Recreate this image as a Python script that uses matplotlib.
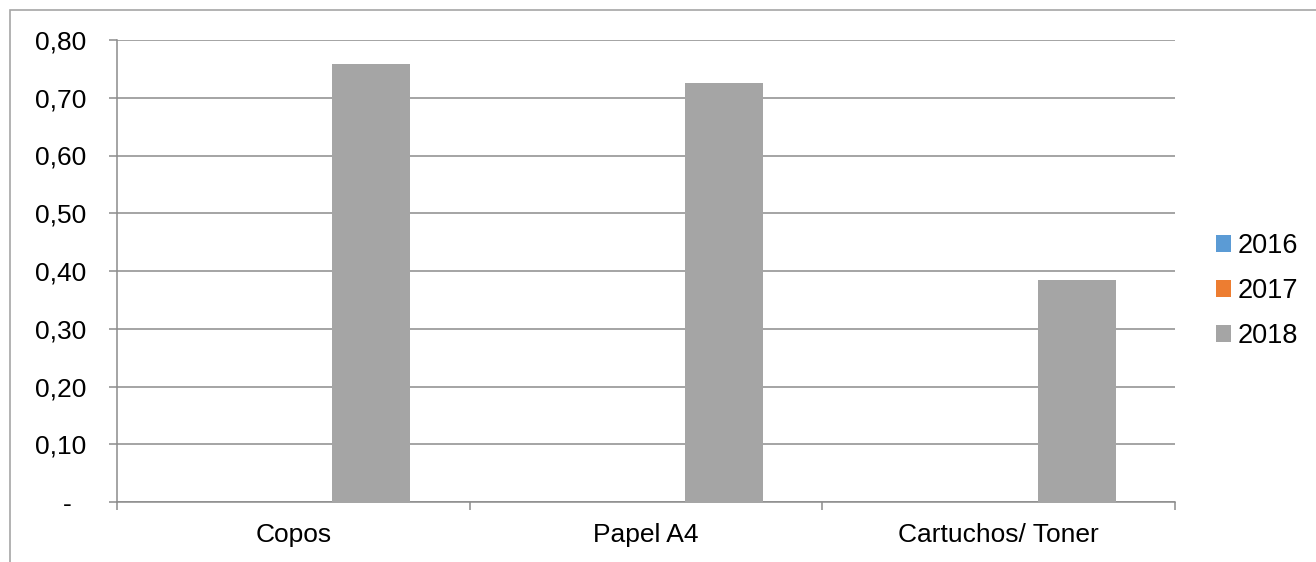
import numpy as np
import matplotlib.pyplot as plt
from matplotlib.patches import Rectangle

plt.rcParams['font.family'] = ['Liberation Sans', 'DejaVu Sans']

categories = ['Copos', 'Papel A4', 'Cartuchos/ Toner']
years = ['2016', '2017', '2018']
values_2016 = [0.0, 0.0, 0.0]
values_2017 = [0.0, 0.0, 0.0]
values_2018 = [0.758, 0.726, 0.384]
yticks = [0.0, 0.1, 0.2, 0.3, 0.4, 0.5, 0.6, 0.7, 0.8]

colors = ['#5B9BD5', '#ED7D31', '#A5A5A5']
grid_col = '#8C8C8C'

W, H = 1316, 562
fig = plt.figure(figsize=(W / 100, H / 100), dpi=100)
ax = fig.add_axes([117 / W, (H - 502) / H, (1175 - 117) / W, 462 / H])

# chart area border (only left and top edges visible in the crop)
fig.patches.append(Rectangle((10 / W, -0.1), 1.2, (H - 10) / H + 0.1,
                             transform=fig.transFigure, fill=False,
                             edgecolor='#A6A6A6', lw=1.2))

x = np.arange(len(categories))
w = 1 / (3 + 1.52)
handles = []
for i, (yr, vals) in enumerate(zip(years, [values_2016, values_2017, values_2018])):
    b = ax.bar(x + (i - 1) * w, vals, width=w, color=colors[i], lw=0,
               label=yr, zorder=3)
    handles.append(b)

ax.set_xlim(-0.5, len(categories) - 0.5)
ax.set_ylim(0, 0.8)
ax.set_yticks(yticks)
ax.set_yticklabels(['-  ' if v == 0 else ('%.2f' % v).replace('.', ',') for v in yticks])
ax.yaxis.grid(True, color=grid_col, lw=1.1, zorder=0)

ax.set_xticks(x)
ax.set_xticklabels(categories)
ax.set_xticks(np.arange(len(categories) + 1) - 0.5, minor=True)
ax.tick_params(axis='x', which='major', length=0, pad=15, labelsize=19)
ax.tick_params(axis='x', which='minor', length=6, color=grid_col, width=1.1)
ax.tick_params(axis='y', length=6, color=grid_col, width=1.1, pad=16, labelsize=19)

for s in ['top', 'right']:
    ax.spines[s].set_visible(False)
for s in ['left', 'bottom']:
    ax.spines[s].set_color(grid_col)
    ax.spines[s].set_linewidth(1.1)

fig.legend(handles=handles, labels=years, loc='center left',
           bbox_to_anchor=(1192 / W, 1 - 291 / H), frameon=False,
           fontsize=19.5, handlelength=0.55, handleheight=0.55,
           handletextpad=0.25, labelspacing=0.7)

fig.savefig('out.png', dpi=100)
